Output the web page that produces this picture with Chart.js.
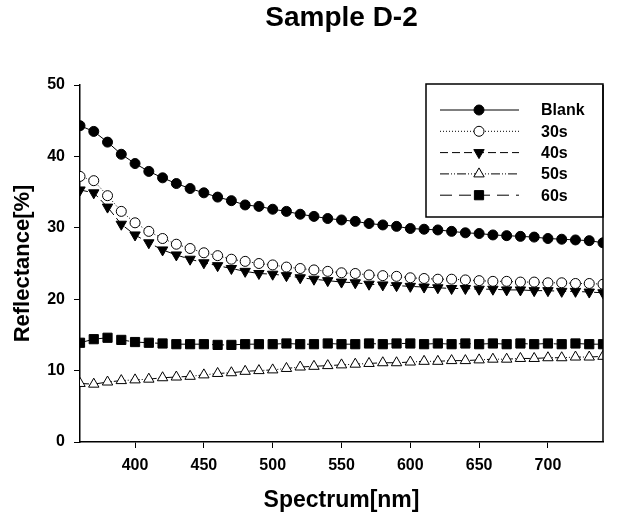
<!DOCTYPE html>
<html>
<head>
<meta charset="utf-8">
<script src="https://cdn.jsdelivr.net/npm/chart.js@4/dist/chart.umd.min.js"></script>
<style>
  html, body { margin: 0; padding: 0; background: #fff; }
  #wrap { width: 623px; height: 519px; }
</style>
</head>
<body>
<div id="wrap"><canvas id="chart"></canvas></div>
<script>
// values
var wavelength = [360, 370, 380, 390, 400, 410, 420, 430, 440, 450, 460, 470, 480,
                  490, 500, 510, 520, 530, 540, 550, 560, 570, 580, 590, 600, 610,
                  620, 630, 640, 650, 660, 670, 680, 690, 700, 710, 720, 730, 740];
var blank = [44.3, 43.5, 42.0, 40.3, 39.0, 37.9, 37.0, 36.2, 35.5, 34.9, 34.3, 33.8, 33.2,
             33.0, 32.6, 32.3, 31.9, 31.6, 31.3, 31.1, 30.9, 30.6, 30.4, 30.2, 29.9, 29.8,
             29.7, 29.5, 29.3, 29.2, 29.0, 28.9, 28.8, 28.7, 28.5, 28.4, 28.3, 28.2, 27.9];
var s30 = [37.2, 36.6, 34.5, 32.3, 30.7, 29.5, 28.5, 27.7, 27.1, 26.5, 26.1, 25.6, 25.3,
           25.0, 24.8, 24.5, 24.3, 24.1, 23.9, 23.7, 23.6, 23.4, 23.3, 23.2, 23.0, 22.9,
           22.8, 22.8, 22.7, 22.6, 22.5, 22.5, 22.4, 22.4, 22.3, 22.3, 22.2, 22.2, 22.1];
var s40 = [35.3, 34.9, 32.9, 30.5, 29.0, 27.9, 26.9, 26.2, 25.6, 25.1, 24.7, 24.3, 23.9,
           23.6, 23.5, 23.3, 23.0, 22.8, 22.6, 22.4, 22.3, 22.1, 22.0, 21.9, 21.8, 21.7,
           21.6, 21.5, 21.5, 21.4, 21.4, 21.3, 21.3, 21.2, 21.2, 21.1, 21.1, 21.0, 20.9];
var s50 = [8.2, 8.1, 8.4, 8.6, 8.7, 8.8, 9.0, 9.1, 9.2, 9.4, 9.6, 9.7, 9.9,
           10.0, 10.1, 10.3, 10.5, 10.6, 10.7, 10.8, 10.9, 11.0, 11.1, 11.1, 11.2, 11.3,
           11.3, 11.4, 11.4, 11.5, 11.6, 11.6, 11.7, 11.7, 11.8, 11.8, 11.9, 11.9, 12.0];
var s60 = [13.9, 14.4, 14.6, 14.3, 14.0, 13.9, 13.8, 13.7, 13.7, 13.7, 13.6, 13.6, 13.7,
           13.7, 13.7, 13.8, 13.7, 13.7, 13.8, 13.7, 13.7, 13.8, 13.7, 13.8, 13.8, 13.7,
           13.8, 13.7, 13.8, 13.7, 13.8, 13.7, 13.8, 13.7, 13.8, 13.7, 13.8, 13.7, 13.7];
var seriesNames = ['Blank', '30s', '40s', '50s', '60s'];
var xTicks = [400, 450, 500, 550, 600, 650, 700];
var yTicks = [0, 10, 20, 30, 40, 50];

var FONT = "'Liberation Sans', Arial, sans-serif";

function pts(vals) {
  return vals.map(function (v, i) { return { x: wavelength[i], y: v }; });
}

var styles = [
  { dash: [],                 point: 'circle',   r: 5,   fill: '#000', rot: 0 },
  { dash: [1, 2],             point: 'circle',   r: 5,   fill: '#fff', rot: 0 },
  { dash: [8, 4],             point: 'triangle', r: 6,   fill: '#000', rot: 180 },
  { dash: [9, 2, 1, 2, 1, 2], point: 'triangle', r: 6,   fill: '#fff', rot: 0 },
  { dash: [12, 7],            point: 'rect',     r: 6.5, fill: '#000', rot: 0 }
];
var series = [blank, s30, s40, s50, s60];

var datasets = series.map(function (vals, i) {
  var st = styles[i];
  return {
    label: seriesNames[i],
    data: pts(vals),
    borderColor: '#000',
    borderWidth: 1,
    borderDash: st.dash,
    pointStyle: st.point,
    pointRadius: st.r,
    pointRotation: st.rot,
    pointBackgroundColor: st.fill,
    pointBorderColor: '#000',
    pointBorderWidth: 1,
    fill: false,
    tension: 0
  };
});

var extras = {
  id: 'extras',
  afterDraw: function (chart) {
    var ctx = chart.ctx, a = chart.chartArea;
    ctx.save();
    // right frame line
    ctx.strokeStyle = '#000';
    ctx.lineWidth = 1.5;
    ctx.beginPath();
    ctx.moveTo(a.right, a.top);
    ctx.lineTo(a.right, a.bottom);
    ctx.stroke();

    // title
    ctx.fillStyle = '#000';
    ctx.font = 'bold 28px ' + FONT;
    ctx.textAlign = 'center';
    ctx.textBaseline = 'middle';
    ctx.fillText('Sample D-2', (a.left + a.right) / 2, 18);

    // legend box
    var bx = 426, by = 84, bw = a.right - 426, bh = 133;
    ctx.lineWidth = 1.5;
    ctx.strokeRect(bx, by, bw, bh);
    ctx.font = 'bold 16px ' + FONT;
    ctx.textAlign = 'left';
    for (var i = 0; i < seriesNames.length; i++) {
      var y = 110 + i * 21.3;
      var st = styles[i];
      ctx.lineWidth = 1;
      ctx.setLineDash(st.dash);
      ctx.beginPath();
      ctx.moveTo(440, y);
      ctx.lineTo(519, y);
      ctx.stroke();
      ctx.setLineDash([]);
      ctx.fillStyle = st.fill;
      Chart.helpers.drawPoint(ctx, {
        pointStyle: st.point, radius: st.r, rotation: st.rot, borderWidth: 1
      }, 479, y);
      ctx.fillStyle = '#000';
      ctx.fillText(seriesNames[i], 541, y + 1);
    }
    ctx.restore();
  }
};

new Chart('chart', {
  type: 'line',
  data: { datasets: datasets },
  options: {
    responsive: true,
    maintainAspectRatio: false,
    animation: false,
    layout: { padding: { top: 85, right: 20, left: 0, bottom: 0 } },
    plugins: {
      legend: { display: false },
      title: { display: false },
      tooltip: { enabled: false }
    },
    scales: {
      x: {
        type: 'linear',
        min: 360,
        max: 740,
        afterBuildTicks: function (s) { s.ticks = xTicks.map(function (v) { return { value: v }; }); },
        afterFit: function (s) { s.height = 77; },
        grid: { drawOnChartArea: false, drawTicks: true, tickLength: 6, color: '#000', lineWidth: 1 },
        border: { display: true, color: '#000', width: 1.5 },
        ticks: { color: '#000', padding: 8, maxRotation: 0, font: { family: FONT, size: 16, weight: 'bold' } },
        title: { display: true, text: 'Spectrum[nm]', color: '#000', padding: { bottom: 5 },
                 font: { family: FONT, size: 23, weight: 'bold' } }
      },
      y: {
        min: 0,
        max: 50,
        afterBuildTicks: function (s) { s.ticks = yTicks.map(function (v) { return { value: v }; }); },
        afterFit: function (s) { s.width = 80; },
        grid: { drawOnChartArea: false, drawTicks: true, tickLength: 6, color: '#000', lineWidth: 1 },
        border: { display: true, color: '#000', width: 1.5 },
        ticks: { color: '#000', padding: 9, font: { family: FONT, size: 16, weight: 'bold' } },
        title: { display: true, text: 'Reflectance[%]', color: '#000', padding: { top: 10 },
                 font: { family: FONT, size: 22, weight: 'bold' } }
      }
    }
  },
  plugins: [extras]
});
</script>
</body>
</html>
